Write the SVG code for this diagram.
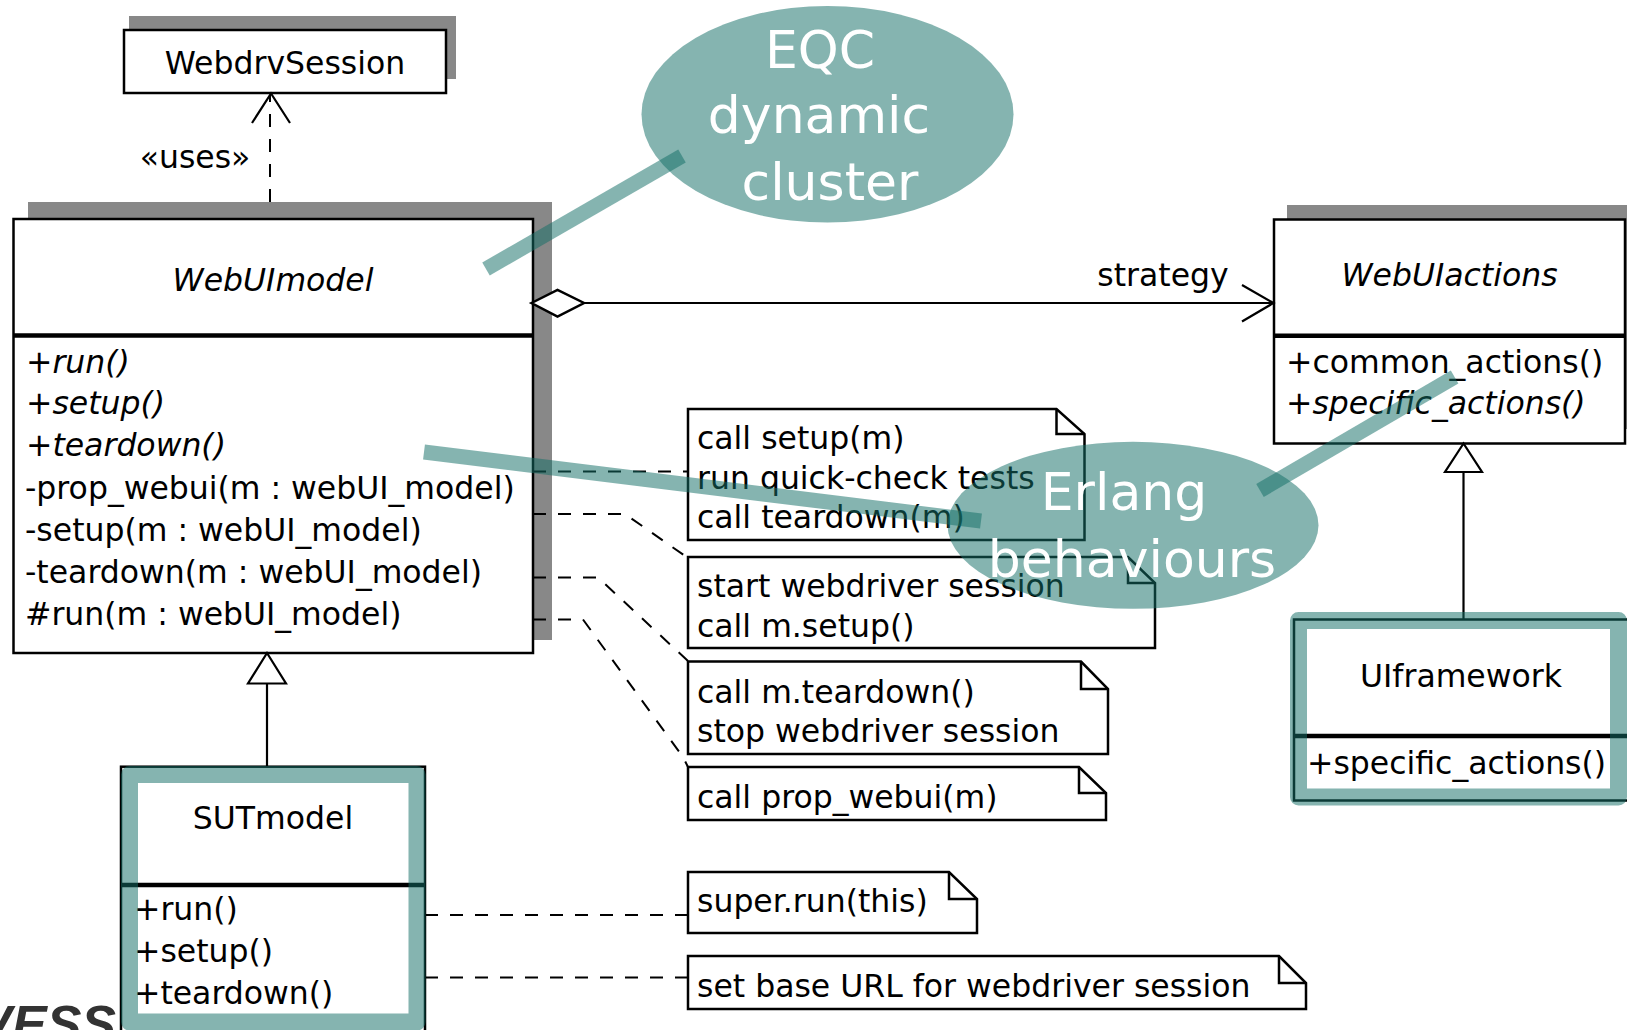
<svg xmlns="http://www.w3.org/2000/svg" width="1627" height="1030" viewBox="0 0 1627 1030">
<style>
.t{font-family:"DejaVu Sans","Noto Sans",sans-serif;font-size:31.5px;fill:#000}
.i{font-style:italic}
.m{text-anchor:middle}
.box{fill:#fff;stroke:#000;stroke-width:2.5}
.shadow{fill:#888}
.sep{stroke:#000;stroke-width:4.5}
.note{fill:#fff;stroke:#000;stroke-width:2.5}
.fold{fill:none;stroke:#000;stroke-width:2.5}
.dash{fill:none;stroke:#000;stroke-width:2;stroke-dasharray:13 12}
.solid{fill:none;stroke:#000;stroke-width:2.2}
.hl{fill:none;stroke:#167068;stroke-opacity:.52;stroke-width:17;stroke-linejoin:round}
.bub{fill:#167068;fill-opacity:.52}
.bt{font-family:"DejaVu Sans","Noto Sans",sans-serif;font-size:52px;fill:#fff;text-anchor:middle}
.tl{stroke:#167068;stroke-opacity:.52;stroke-width:15}
</style>

<text x="116" y="1042" text-anchor="end" style="font-family:'Liberation Sans',Arial,sans-serif;font-weight:bold;font-style:italic;font-size:52px;fill:#333">VESS</text>

<g id="WebdrvSession">
<rect class="shadow" x="129" y="16" width="327" height="63"/>
<rect class="box" x="124" y="30" width="322" height="63"/>
<text class="t m" x="285" y="74">WebdrvSession</text>
</g>

<g id="WebUImodel">
<rect class="shadow" x="28" y="202" width="524" height="438"/>
<rect class="box" x="13.5" y="219" width="519.5" height="434"/>
<line class="sep" x1="13.5" y1="335.5" x2="533" y2="335.5"/>
<text class="t m i" x="273" y="291">WebUImodel</text>
<text class="t i" x="26" y="372.5">+run()</text>
<text class="t i" x="26" y="414">+setup()</text>
<text class="t i" x="26" y="455.5">+teardown()</text>
<text class="t" x="25" y="498.5">-prop_webui(m : webUI_model)</text>
<text class="t" x="25" y="540.5">-setup(m : webUI_model)</text>
<text class="t" x="25" y="582.5">-teardown(m : webUI_model)</text>
<text class="t" x="25" y="624.5">#run(m : webUI_model)</text>
</g>

<g id="WebUIactions">
<rect class="shadow" x="1287" y="205" width="353" height="224"/>
<rect class="box" x="1274" y="219.5" width="351" height="224"/>
<line class="sep" x1="1274" y1="335.7" x2="1625" y2="335.7"/>
<text class="t m i" x="1449.5" y="286">WebUIactions</text>
<text class="t" x="1286" y="372.5">+common_actions()</text>
<text class="t i" x="1286" y="413.5">+specific_actions()</text>
</g>

<g id="UIframework">
<rect class="box" x="1294" y="619.5" width="346" height="181"/>
<line class="sep" x1="1294" y1="736" x2="1640" y2="736"/>
<text class="t m" x="1461" y="687">UIframework</text>
<text class="t" x="1307" y="774">+specific_actions()</text>
</g>

<g id="SUTmodel">
<rect class="box" x="121" y="766.7" width="304" height="300"/>
<line class="sep" x1="121" y1="885" x2="425" y2="885"/>
<text class="t m" x="273" y="829">SUTmodel</text>
<text class="t" x="134" y="920">+run()</text>
<text class="t" x="134" y="962">+setup()</text>
<text class="t" x="134" y="1004">+teardown()</text>
</g>

<g id="note1">
<path class="note" d="M688,409 H1056.5 L1084.5,434 V540 H688 Z"/>
<path class="fold" d="M1056.5,409 V434 H1084.5"/>
<text class="t" x="697" y="449">call setup(m)</text>
<text class="t" x="697" y="489">run quick-check tests</text>
<text class="t" x="697" y="528">call teardown(m)</text>
</g>

<g id="note2">
<path class="note" d="M688,557 H1128 L1155,583 V648 H688 Z"/>
<path class="fold" d="M1128,557 V583 H1155"/>
<text class="t" x="697" y="597">start webdriver session</text>
<text class="t" x="697" y="637">call m.setup()</text>
</g>

<g id="note3">
<path class="note" d="M688,661.5 H1081 L1108,689 V754 H688 Z"/>
<path class="fold" d="M1081,661.5 V689 H1108"/>
<text class="t" x="697" y="703">call m.teardown()</text>
<text class="t" x="697" y="742">stop webdriver session</text>
</g>

<g id="note4">
<path class="note" d="M688,767 H1079 L1106,793 V820 H688 Z"/>
<path class="fold" d="M1079,767 V793 H1106"/>
<text class="t" x="697" y="807.5">call prop_webui(m)</text>
</g>

<g id="note5">
<path class="note" d="M688,872 H949 L977,899 V933 H688 Z"/>
<path class="fold" d="M949,872 V899 H977"/>
<text class="t" x="697" y="912">super.run(this)</text>
</g>

<g id="note6">
<path class="note" d="M688,956 H1279 L1306,983 V1009 H688 Z"/>
<path class="fold" d="M1279,956 V983 H1306"/>
<text class="t" x="697" y="997">set base URL for webdriver session</text>
</g>

<g id="connectors">
<line class="dash" x1="270" y1="202" x2="270" y2="95"/>
<polyline class="solid" points="252,123 271,93.5 290,123"/>
<text class="t m" x="195" y="168">«uses»</text>

<line class="solid" x1="584" y1="303" x2="1273" y2="303"/>
<polygon points="531.5,303 557.5,290 584,303 557.5,316.5" fill="#fff" stroke="#000" stroke-width="2.5"/>
<polyline class="solid" points="1242,285 1273.5,303 1242,321.5"/>
<text class="t m" x="1163" y="286">strategy</text>

<line class="solid" x1="267" y1="683.5" x2="267" y2="766.7"/>
<polygon points="267,653 248,683.5 286,683.5" fill="#fff" stroke="#000" stroke-width="2.2"/>
<line class="solid" x1="1463.5" y1="472" x2="1463.5" y2="619.5"/>
<polygon points="1463.5,443.5 1445,472 1482,472" fill="#fff" stroke="#000" stroke-width="2.2"/>

<path class="dash" d="M533,471.5 H688"/>
<path class="dash" d="M533,514 H625 L688,558"/>
<path class="dash" d="M533,577.5 H598 L688,661"/>
<path class="dash" d="M533,619.5 H583 L683,757 L688,767"/>
<path class="dash" d="M425,915 H688"/>
<path class="dash" d="M425,977.5 H688"/>
</g>

<g id="highlights">
<rect class="hl" x="1298.5" y="620.5" width="320" height="176.5"/>
<rect class="hl" x="129.5" y="774.5" width="287.5" height="247.5"/>
</g>

<g id="EQC">
<ellipse class="bub" cx="827.5" cy="114.3" rx="186" ry="108.3"/>
<text class="bt" x="820" y="68">EQC</text>
<text class="bt" x="819" y="133">dynamic</text>
<text class="bt" x="830" y="200">cluster</text>
</g>

<g id="Erlang">
<ellipse class="bub" cx="1133" cy="525.3" rx="185.5" ry="83.5"/>
<text class="bt" x="1124" y="510">Erlang</text>
<text class="bt" x="1132" y="577">behaviours</text>
</g>

<g id="pointers">
<line class="tl" x1="486" y1="269" x2="682" y2="156"/>
<line class="tl" x1="424" y1="452" x2="981" y2="521"/>
<line class="tl" x1="1260" y1="490.5" x2="1454.6" y2="377"/>
</g>
</svg>
